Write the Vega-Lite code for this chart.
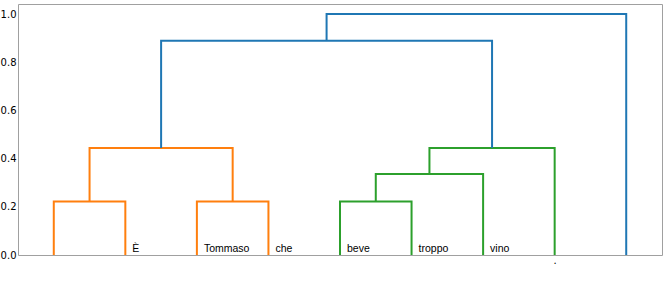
{
  "$schema": "https://vega.github.io/schema/vega-lite/v6.json",
  "autosize": {"type": "none"},
  "padding": {"left": 18, "top": 4, "right": 2, "bottom": 26},
  "width": 644,
  "height": 251,
  "config": {"view": {"stroke": "#a0a0a0", "strokeWidth": 1}},
  "datasets": {
    "links": [
      {"link": 1, "i": 1, "x": 5, "y": 0, "c": "orange"},
      {"link": 1, "i": 2, "x": 5, "y": 0.223, "c": "orange"},
      {"link": 1, "i": 3, "x": 15, "y": 0.223, "c": "orange"},
      {"link": 1, "i": 4, "x": 15, "y": 0, "c": "orange"},
      {"link": 2, "i": 1, "x": 25, "y": 0, "c": "orange"},
      {"link": 2, "i": 2, "x": 25, "y": 0.223, "c": "orange"},
      {"link": 2, "i": 3, "x": 35, "y": 0.223, "c": "orange"},
      {"link": 2, "i": 4, "x": 35, "y": 0, "c": "orange"},
      {"link": 3, "i": 1, "x": 10, "y": 0.223, "c": "orange"},
      {"link": 3, "i": 2, "x": 10, "y": 0.446, "c": "orange"},
      {"link": 3, "i": 3, "x": 30, "y": 0.446, "c": "orange"},
      {"link": 3, "i": 4, "x": 30, "y": 0.223, "c": "orange"},
      {"link": 4, "i": 1, "x": 45, "y": 0, "c": "green"},
      {"link": 4, "i": 2, "x": 45, "y": 0.223, "c": "green"},
      {"link": 4, "i": 3, "x": 55, "y": 0.223, "c": "green"},
      {"link": 4, "i": 4, "x": 55, "y": 0, "c": "green"},
      {"link": 5, "i": 1, "x": 50, "y": 0.223, "c": "green"},
      {"link": 5, "i": 2, "x": 50, "y": 0.3375, "c": "green"},
      {"link": 5, "i": 3, "x": 65, "y": 0.3375, "c": "green"},
      {"link": 5, "i": 4, "x": 65, "y": 0, "c": "green"},
      {"link": 6, "i": 1, "x": 57.5, "y": 0.3375, "c": "green"},
      {"link": 6, "i": 2, "x": 57.5, "y": 0.446, "c": "green"},
      {"link": 6, "i": 3, "x": 75, "y": 0.446, "c": "green"},
      {"link": 6, "i": 4, "x": 75, "y": 0, "c": "green"},
      {"link": 7, "i": 1, "x": 20, "y": 0.446, "c": "blue"},
      {"link": 7, "i": 2, "x": 20, "y": 0.892, "c": "blue"},
      {"link": 7, "i": 3, "x": 66.25, "y": 0.892, "c": "blue"},
      {"link": 7, "i": 4, "x": 66.25, "y": 0.446, "c": "blue"},
      {"link": 8, "i": 1, "x": 43.125, "y": 0.892, "c": "blue"},
      {"link": 8, "i": 2, "x": 43.125, "y": 1.003, "c": "blue"},
      {"link": 8, "i": 3, "x": 85, "y": 1.003, "c": "blue"},
      {"link": 8, "i": 4, "x": 85, "y": 0, "c": "blue"}
    ],
    "words": [
      {"x": 15, "word": "È"},
      {"x": 25, "word": "Tommaso"},
      {"x": 35, "word": "che"},
      {"x": 45, "word": "beve"},
      {"x": 55, "word": "troppo"},
      {"x": 65, "word": "vino"}
    ]
  },
  "layer": [
    {
      "data": {"name": "links"},
      "mark": {"type": "line", "strokeWidth": 2, "interpolate": "linear"},
      "encoding": {
        "x": {
          "field": "x", "type": "quantitative",
          "scale": {"domain": [0, 90], "nice": false, "zero": false},
          "axis": {"values": [75], "labelExpr": "'.'", "ticks": false, "domain": false, "grid": false, "title": null, "labelFont": "DejaVu Sans", "labelFontSize": 10, "labelColor": "#000000", "labelPadding": 0}
        },
        "y": {
          "field": "y", "type": "quantitative",
          "scale": {"domain": [0, 1.045], "nice": false},
          "axis": {"values": [0, 0.2, 0.4, 0.6, 0.8, 1.0], "format": ".1f", "ticks": false, "domain": false, "grid": false, "title": null, "labelFont": "DejaVu Sans", "labelFontSize": 10, "labelColor": "#000000", "labelPadding": 2}
        },
        "detail": {"field": "link"},
        "order": {"field": "i"},
        "color": {
          "field": "c", "type": "nominal",
          "scale": {"domain": ["orange", "green", "blue"], "range": ["#ff7f0e", "#2ca02c", "#1f77b4"]},
          "legend": null
        }
      }
    },
    {
      "data": {"name": "words"},
      "mark": {"type": "text", "align": "left", "baseline": "alphabetic", "dx": 7, "font": "Liberation Sans", "fontSize": 10.5, "color": "#000000"},
      "encoding": {
        "x": {"field": "x", "type": "quantitative"},
        "y": {"datum": 0.012},
        "text": {"field": "word"}
      }
    }
  ]
}
